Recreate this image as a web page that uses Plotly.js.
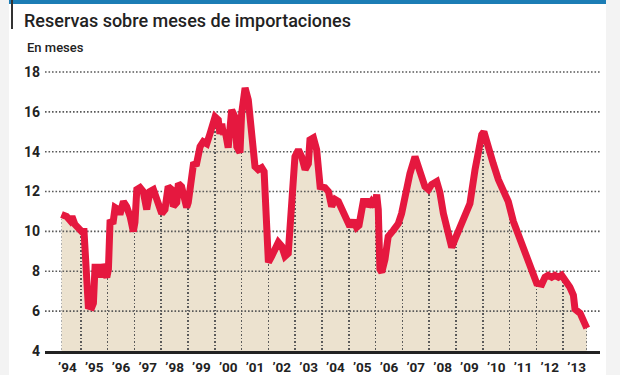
<!DOCTYPE html>
<html><head><meta charset="utf-8">
<script src="https://cdn.plot.ly/plotly-3.0.1.min.js"></script>
<style>html,body{margin:0;padding:0;background:#fff}#chart{width:620px;height:375px}</style>
</head><body><div id="chart"></div>
<script>
// Data: reserves in months of imports (decimal year, value)
const dates = [
 1994.28,1994.47,1994.60,1994.67,1994.78,1994.91,1995.03,1995.12,1995.22,1995.28,
 1995.41,1995.47,1995.53,1995.65,1995.72,1995.78,1995.90,1995.97,1996.03,1996.09,
 1996.21,1996.28,1996.40,1996.46,1996.59,1996.71,1996.84,1996.96,1997.02,1997.09,
 1997.21,1997.33,1997.46,1997.58,1997.71,1997.83,1998.02,1998.14,1998.26,1998.39,
 1998.45,1998.58,1998.64,1998.76,1998.89,1998.95,1999.01,1999.14,1999.20,1999.32,
 1999.45,1999.57,1999.70,1999.82,2000.01,2000.13,2000.19,2000.26,2000.32,2000.38,
 2000.50,2000.63,2000.75,2000.82,2000.94,2001.00,2001.06,2001.13,2001.25,2001.38,
 2001.50,2001.62,2001.75,2001.84,2001.94,2002.00,2002.12,2002.25,2002.37,2002.50,
 2002.62,2002.74,2002.87,2002.99,2003.12,2003.24,2003.37,2003.49,2003.55,2003.68,
 2003.80,2003.93,2004.11,2004.24,2004.36,2004.49,2004.61,2004.74,2004.92,2005.04,
 2005.17,2005.29,2005.38,2005.54,2005.67,2005.73,2005.85,2005.98,2006.04,2006.10,
 2006.16,2006.23,2006.35,2006.47,2006.66,2006.85,2006.97,2007.10,2007.28,2007.47,
 2007.66,2007.84,2007.97,2008.09,2008.28,2008.40,2008.53,2008.71,2008.84,2008.96,
 2009.15,2009.34,2009.52,2009.71,2009.83,2009.96,2010.04,2010.21,2010.39,2010.58,
 2010.77,2010.95,2011.14,2011.32,2011.51,2011.70,2011.88,2012.01,2012.20,2012.32,
 2012.44,2012.57,2012.69,2012.82,2012.94,2013.07,2013.25,2013.38,2013.44,2013.63,
 2013.75,2013.88
];
const values = [
 10.85,10.75,10.55,10.75,10.35,10.15,10.0,10.0,8.2,6.25,
 6.2,6.4,8.2,8.2,7.7,8.35,7.9,7.7,8.1,10.45,
 10.5,11.2,11.1,10.85,11.5,11.25,10.75,10.0,10.45,12.1,
 12.2,12.0,11.1,12.0,12.1,11.7,10.9,11.1,12.25,12.1,
 11.25,11.45,12.4,12.25,11.45,11.2,11.45,12.6,13.35,13.4,
 14.25,14.5,14.4,14.9,15.75,15.6,14.9,15.4,14.85,15.1,
 14.2,16.1,15.75,14.25,13.95,15.9,17.1,17.2,16.6,14.25,
 13.25,13.1,13.2,13.0,8.6,8.45,8.75,9.1,9.45,9.25,
 8.75,8.9,11.45,13.75,14.1,13.75,13.1,13.4,14.6,14.7,
 14.1,12.25,12.2,12.0,11.25,11.6,11.5,11.1,10.6,10.25,
 10.55,10.2,10.3,11.5,11.5,11.25,11.5,11.25,11.85,11.1,
 8.1,7.95,8.6,9.75,10.05,10.4,10.9,11.95,12.9,13.75,
 13.0,12.25,12.1,12.35,12.5,11.95,10.9,9.75,9.2,9.6,
 10.15,10.8,11.4,13.1,14.1,14.85,15.0,14.35,13.4,12.6,
 12.1,11.5,10.5,9.85,9.2,8.55,7.7,7.4,7.35,7.7,
 7.8,7.7,7.8,7.7,7.8,7.6,7.2,6.8,6.1,5.9,
 5.55,5.15
];
const yTicks = [4,6,8,10,12,14,16,18];
const labelYears = [1994,1995,1996,1997,1998,1999,2000,2001,2002,2003,2004,2005,2006,2007,2008,2009,2010,2011,2012,2013];
const yearLabels = ["’94","’95","’96","’97","’98","’99","’00","’01","’02","’03","’04","’05","’06","’07","’08","’09","’10","’11","’12","’13"];

const xRange = [1993.664, 2014.373];
const yRange = [4, 18.2];

const RED = '#e5183f', BEIGE = '#ece2cf', GRID = '#5a5a5a', WHITE = '#ffffff';

// grid positions: year starts inside data plus data ends
const gridVals = [dates[0]].concat(labelYears.slice(1), [dates[dates.length-1]]);
const labelVals = labelYears.map(y => y + 0.5);

// White mask above the curve (so vertical grid only shows under the area)
const mx = [xRange[0]-1, dates[0]].concat(dates, [dates[dates.length-1], xRange[1]+1, xRange[1]+1, xRange[0]-1]);
const my = [yRange[0]-1, yRange[0]-1].concat(values, [yRange[0]-1, yRange[0]-1, yRange[1]+1, yRange[1]+1]);

// horizontal dotted gridlines
const hx = [], hy = [];
yTicks.slice(1).forEach(v => { hx.push(xRange[0], xRange[1], null); hy.push(v, v, null); });

const traces = [
  {x: mx, y: my, type: 'scatter', mode: 'lines', fill: 'toself', fillcolor: WHITE,
   line: {width: 0, color: WHITE}, hoverinfo: 'skip', showlegend: false, xaxis: 'x', yaxis: 'y'},
  {x: hx, y: hy, type: 'scatter', mode: 'lines', line: {color: GRID, width: 1.6, dash: '1.6px,1.9px'},
   hoverinfo: 'skip', showlegend: false, xaxis: 'x', yaxis: 'y'},
  {x: dates, y: values, type: 'scatter', mode: 'lines', line: {color: RED, width: 7, shape: 'linear'},
   showlegend: false, xaxis: 'x2', yaxis: 'y', name: 'Reservas'}
];

const shapes = [
  {type:'rect', xref:'paper', yref:'paper', x0:-0.0811, x1:-0.0649, y0:-0.0848, y1:1.2403, fillcolor:'#f3f3f3', line:{width:0}, layer:'below'},
  {type:'rect', xref:'paper', yref:'paper', x0:1.0108, x1:1.036, y0:-0.0848, y1:1.2403, fillcolor:'#f3f3f3', line:{width:0}, layer:'below'},
  {type:'rect', xref:'paper', yref:'paper', x0:-0.0649, x1:1.0108, y0:1.2261, y1:1.2403, fillcolor:'#1c7db5', line:{width:0}},
  {type:'line', xref:'paper', yref:'paper', x0:-0.0595, x1:-0.0595, y0:1.1378, y1:1.2403, line:{color:'#333', width:2}}
];

const layout = {
  width: 620, height: 375,
  margin: {l: 45, r: 20, t: 68, b: 24},
  paper_bgcolor: '#ffffff', plot_bgcolor: BEIGE,
  showlegend: false,
  title: {text: 'Reservas sobre meses de importaciones', xref: 'container', x: 24/620, xanchor: 'left',
          yref: 'container', y: 1 - 21/375, yanchor: 'middle',
          font: {family: 'Roboto, sans-serif', size: 18, color: '#222', weight: 500}},
  xaxis: {range: xRange, tickmode: 'array', tickvals: gridVals, showticklabels: false, ticks: '',
          showgrid: true, gridcolor: GRID, gridwidth: 1.6, griddash: '1.6px,1.9px',
          showline: true, linecolor: '#222', linewidth: 2.5, zeroline: false, fixedrange: true},
  xaxis2: {range: xRange, overlaying: 'x', anchor: 'y', side: 'bottom', tickmode: 'array',
           tickvals: labelVals, ticktext: yearLabels, ticks: '', showgrid: false, zeroline: false,
           showline: false, ticklabelstandoff: 6,
           tickfont: {family: 'Roboto, sans-serif', size: 13.5, color: '#222', weight: 700}},
  yaxis: {range: yRange, tickmode: 'array', tickvals: yTicks, ticks: '', showgrid: false,
          zeroline: false, showline: false, ticklabelstandoff: 4,
          tickfont: {family: 'Roboto, sans-serif', size: 14, color: '#222', weight: 700}},
  annotations: [
    {text: 'En meses', xref: 'paper', yref: 'paper', x: -0.036, y: 1.074, xanchor: 'left', yanchor: 'middle',
     showarrow: false, font: {family: 'Roboto, sans-serif', size: 13, color: '#222', weight: 500}}
  ],
  shapes: shapes
};

Plotly.newPlot('chart', traces, layout, {displayModeBar: false, staticPlot: true});
</script>
</body></html>
